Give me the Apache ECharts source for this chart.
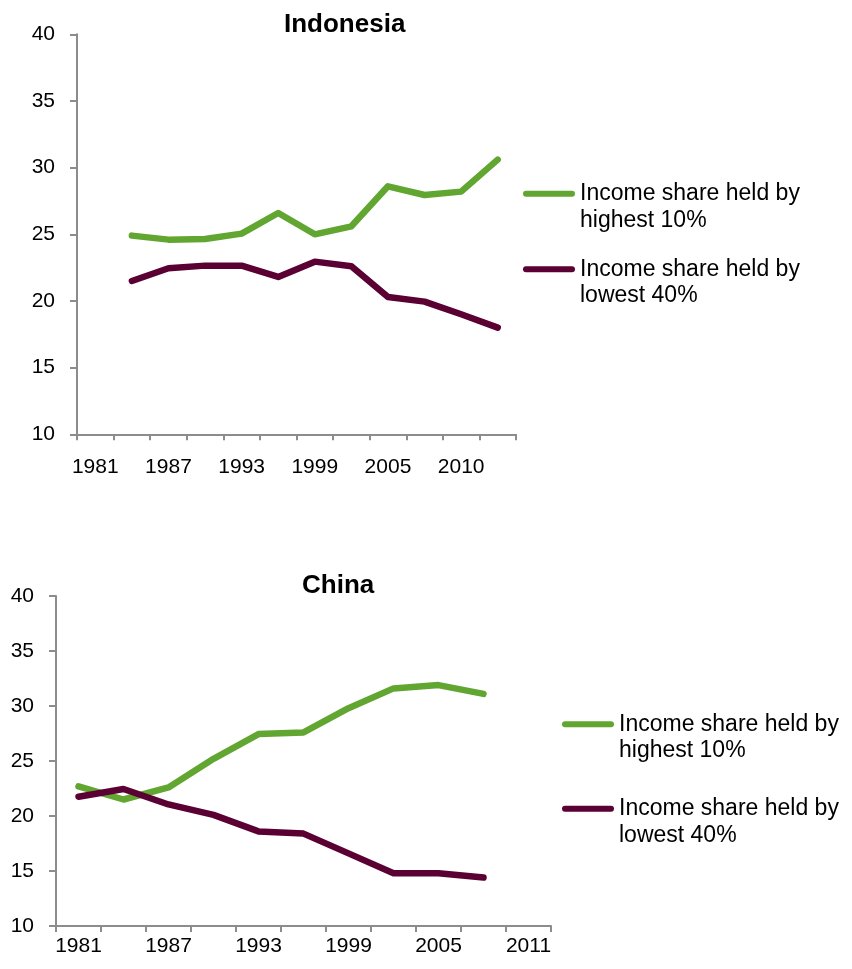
<!DOCTYPE html>
<html>
<head>
<meta charset="utf-8">
<script src="https://cdn.jsdelivr.net/npm/echarts@6/dist/echarts.min.js"></script>
<style>
html,body{margin:0;padding:0;background:#fff;}
#main{width:852px;height:969px;}
</style>
</head>
<body>
<div id="main"></div>
<script>
// ---- Data ----
var seriesNames = ['Income share held by highest 10%', 'Income share held by lowest 40%'];

var idnYears = ['1981','1984','1987','1990','1993','1996','1999','2002','2005','2008','2010','2012'];
var idnHighest10 = [null, 24.9, 24.6, 24.65, 25.05, 26.6, 25.0, 25.6, 28.6, 27.95, 28.2, 30.6];
var idnLowest40  = [null, 21.5, 22.45, 22.65, 22.65, 21.8, 22.95, 22.6, 20.3, 19.95, 19.0, 18.0];

var chnYears = ['1981','1984','1987','1990','1993','1996','1999','2002','2005','2008','2011'];
var chnHighest10 = [22.7, 21.5, 22.6, 25.2, 27.45, 27.6, 29.8, 31.6, 31.9, 31.1, null];
var chnLowest40  = [21.75, 22.45, 21.05, 20.1, 18.6, 18.4, 16.6, 14.8, 14.8, 14.4, null];

var yTicks = [10, 15, 20, 25, 30, 35, 40];
var titles = ['Indonesia', 'China'];

// ---- Styles ----
var GREEN = '#62A632';
var PURPLE = '#5A0033';
var AXIS = '#8C8C8C';
var FONT = 'Liberation Sans, Arial, sans-serif';

var chart = echarts.init(document.getElementById('main'), null, {renderer: 'canvas'});

function xAxis(idx, cats, margin) {
  return {
    type: 'category', gridIndex: idx, data: cats, boundaryGap: true,
    axisLine: {show: true, lineStyle: {color: AXIS, width: 2}},
    axisTick: {show: true, interval: 0, length: 6, lineStyle: {color: AXIS, width: 2}},
    axisLabel: {interval: 1, color: '#000', fontSize: 21, fontFamily: FONT, margin: margin},
    splitLine: {show: false}
  };
}
function yAxis(idx) {
  return {
    type: 'value', gridIndex: idx, min: yTicks[0], max: yTicks[yTicks.length - 1], interval: 5,
    axisLine: {show: true, lineStyle: {color: AXIS, width: 2}},
    axisTick: {show: true, length: 7, lineStyle: {color: AXIS, width: 2}},
    axisLabel: {color: '#000', fontSize: 21, fontFamily: FONT, margin: 22},
    splitLine: {show: false}
  };
}
function line(name, data, color, idx) {
  return {
    type: 'line', name: name, data: data, xAxisIndex: idx, yAxisIndex: idx,
    symbol: 'none', connectNulls: false, smooth: false,
    lineStyle: {color: color, width: 6.5, cap: 'round', join: 'round'},
    itemStyle: {color: color},
    emphasis: {disabled: true},
    animation: false
  };
}
var pill = 'path://M3,0 L49,0 A3,3 0 0 1 49,6 L3,6 A3,3 0 0 1 3,0 Z';
function legend(left, top, gap) {
  return {
    orient: 'vertical', left: left, top: top, data: seriesNames,
    icon: pill, itemWidth: 52, itemHeight: 6, itemGap: gap,
    selectedMode: false,
    formatter: function (n) { return ' \n' + n.replace('held by ', 'held by\n'); },
    textStyle: {color: '#000', fontSize: 23, fontFamily: FONT, lineHeight: 26.5}
  };
}

chart.setOption({
  backgroundColor: '#fff',
  animation: false,
  title: [
    {text: titles[0], left: 279, top: 7, textStyle: {fontSize: 26, fontWeight: 'bold', color: '#000', fontFamily: FONT}},
    {text: titles[1], left: 297, top: 568, textStyle: {fontSize: 26, fontWeight: 'bold', color: '#000', fontFamily: FONT}}
  ],
  legend: [legend(518, 149, -4), legend(557, 679.5, 5)],
  grid: [
    {left: 77, top: 34.3, width: 439, height: 400},
    {left: 56, top: 596, width: 495, height: 330}
  ],
  xAxis: [xAxis(0, idnYears, 22), xAxis(1, chnYears, 10)],
  yAxis: [yAxis(0), yAxis(1)],
  series: [
    line(seriesNames[0], idnHighest10, GREEN, 0),
    line(seriesNames[1], idnLowest40, PURPLE, 0),
    line(seriesNames[0], chnHighest10, GREEN, 1),
    line(seriesNames[1], chnLowest40, PURPLE, 1)
  ]
});
</script>
</body>
</html>
